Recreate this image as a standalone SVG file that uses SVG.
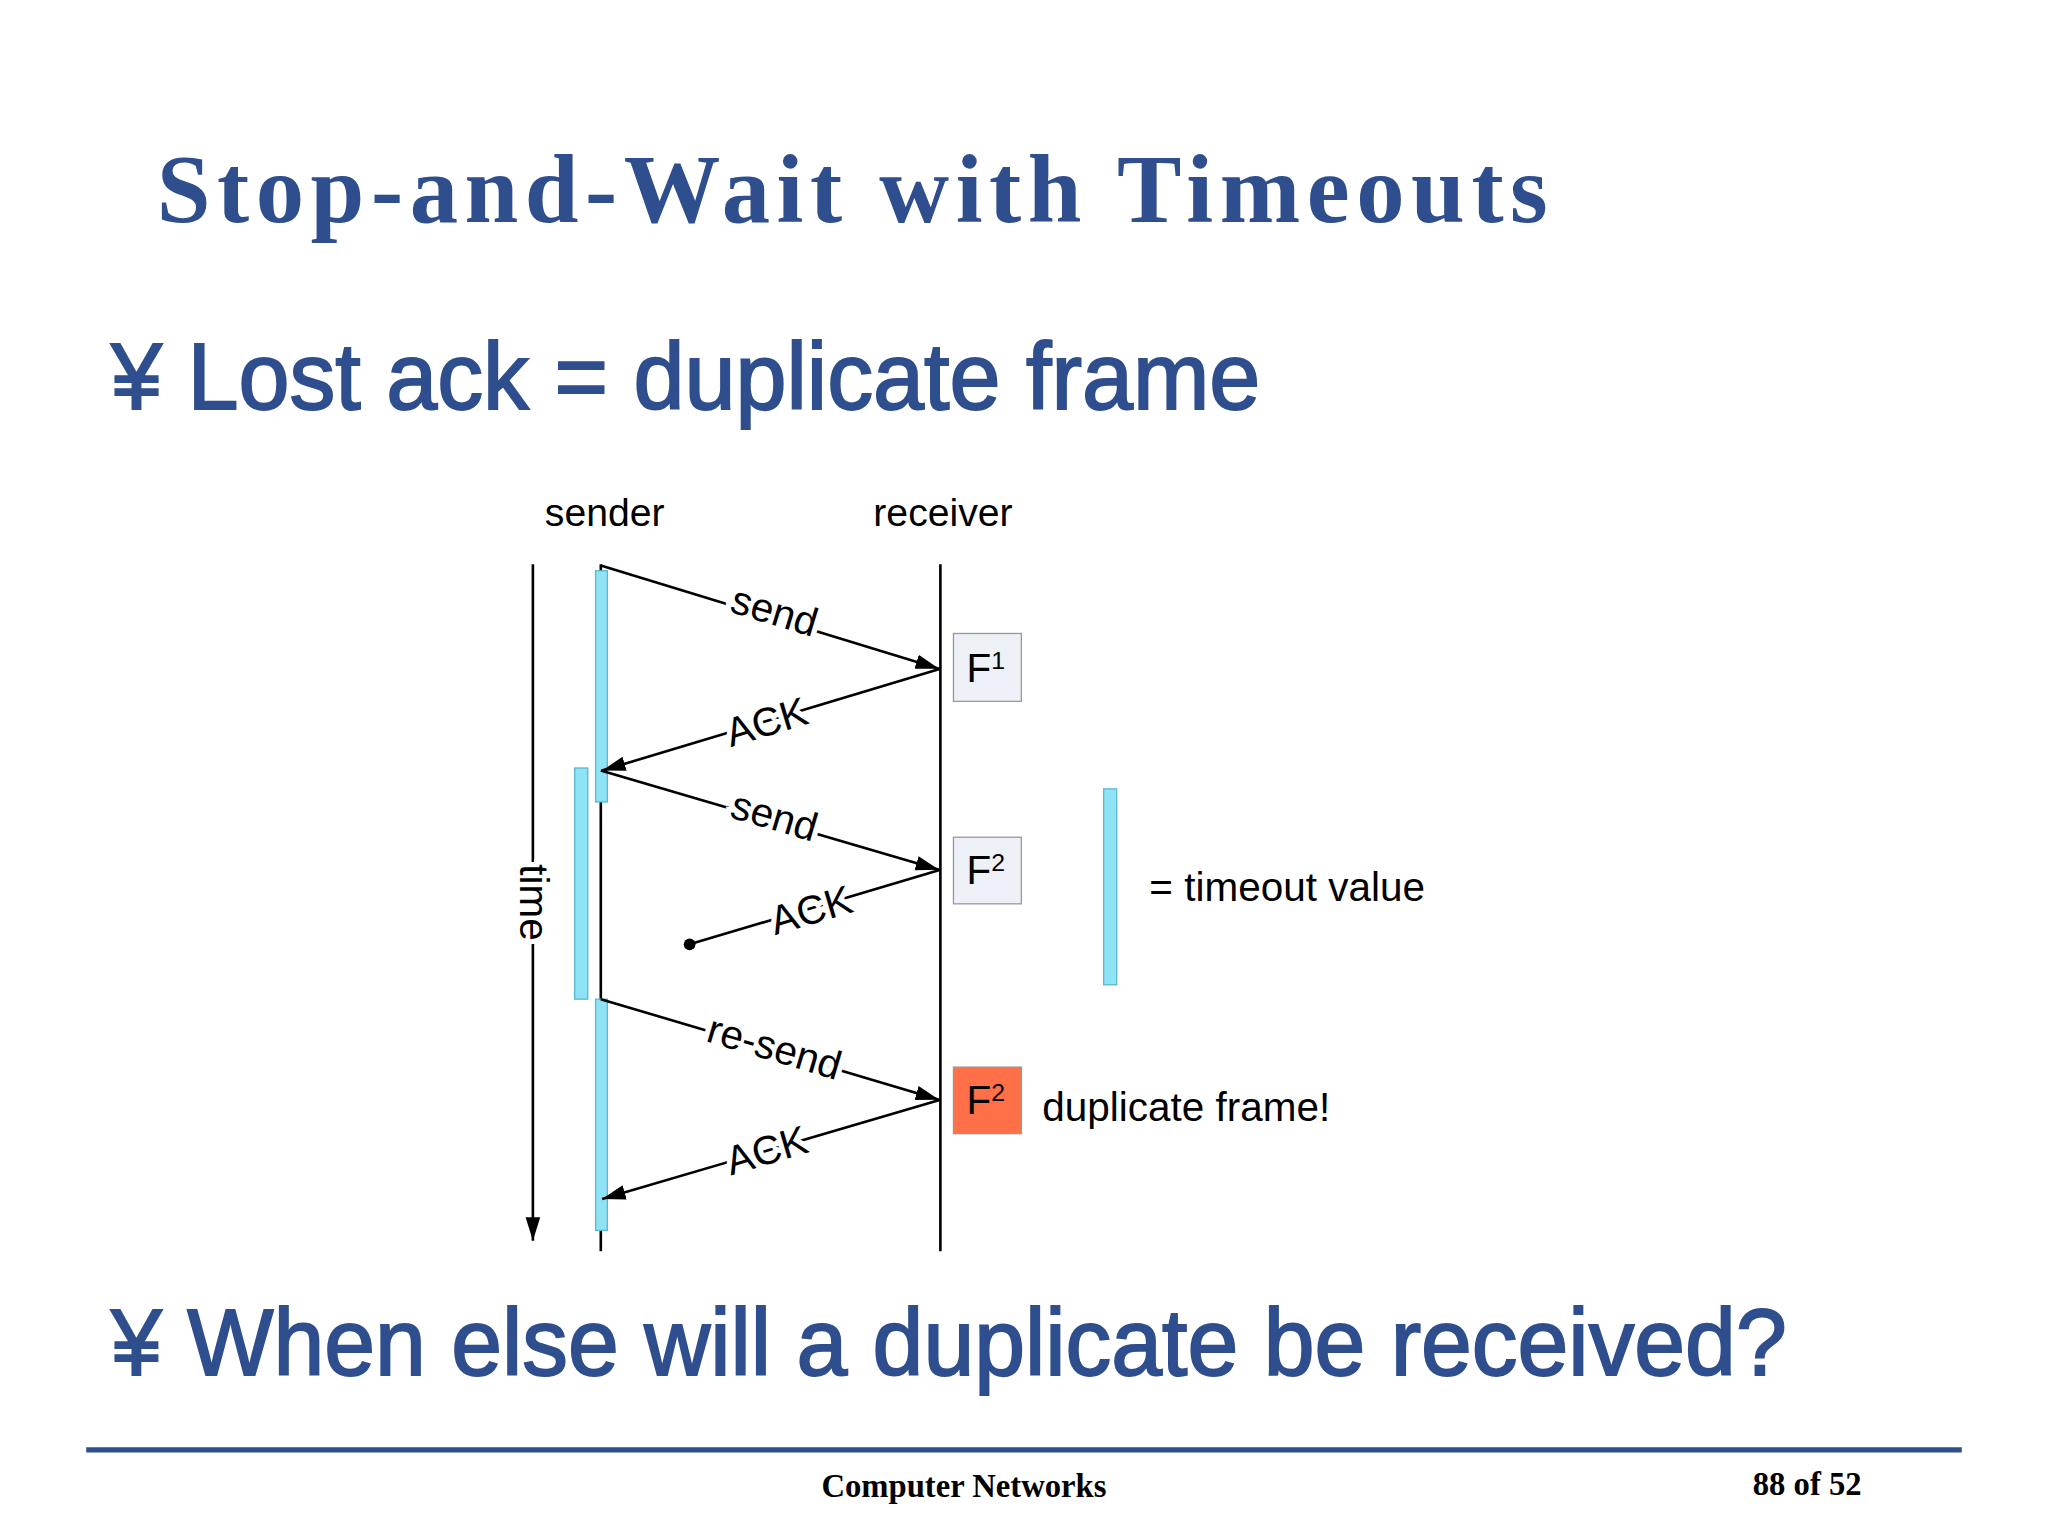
<svg xmlns="http://www.w3.org/2000/svg" width="2048" height="1536" viewBox="0 0 2048 1536">
<style>
.t{font-family:"Liberation Sans",Arial,sans-serif;fill:#000}
.lab{font-family:"Liberation Sans",Arial,sans-serif;font-size:31px;fill:#000;stroke:#fff;stroke-width:8px;paint-order:stroke;text-anchor:middle}
.ln{stroke:#000;stroke-width:2;fill:none}
.bar{fill:#8EE3F5;stroke:#5AB8D0;stroke-width:1}
.blue{fill:#2E4E8E}
.big{font-family:"Liberation Sans",Arial,sans-serif;font-size:72px;stroke:#2E4E8E;stroke-width:1.5px}
</style>
<defs><marker id="ah" viewBox="0 0 10 10" refX="10" refY="5" markerWidth="18" markerHeight="14" markerUnits="userSpaceOnUse" orient="auto" preserveAspectRatio="none"><path d="M0,1 L10,5 L0,9 z" fill="#000"/></marker>
<marker id="ah2" viewBox="0 0 10 10" refX="10" refY="5" markerWidth="18" markerHeight="14" markerUnits="userSpaceOnUse" orient="auto" preserveAspectRatio="none"><path d="M0,1 L10,5 L0,9 z" fill="#000"/></marker></defs>
<rect width="2048" height="1536" fill="#fff"/>
<g transform="scale(1.3061)">
<g id="title"><text x="120" y="170" class="blue" font-family="Liberation Serif,serif" font-weight="bold" font-size="74" textLength="1065" lengthAdjust="spacing">Stop-and-Wait with Timeouts</text></g>
<g id="bullet1"><text x="85" y="313" class="blue big" textLength="880" lengthAdjust="spacingAndGlyphs">¥ Lost ack = duplicate frame</text></g>
<g id="bullet2"><text x="85" y="1053" class="blue big" textLength="1283" lengthAdjust="spacingAndGlyphs">¥ When else will a duplicate be received?</text></g>
<g id="footer"><line x1="66" y1="1110" x2="1502" y2="1110" stroke="#2E4E8E" stroke-width="4"/>
<text x="738" y="1146" text-anchor="middle" font-family="Liberation Serif,serif" font-weight="bold" font-size="25">Computer Networks</text>
<text x="1342" y="1145" font-family="Liberation Serif,serif" font-weight="bold" font-size="25">88 of 52</text></g>
<g id="sender"><text class="t" x="463" y="403" font-size="30" text-anchor="middle">sender</text><line class="ln" x1="460" y1="432" x2="460" y2="958"/></g>
<g id="receiver"><text class="t" x="722" y="403" font-size="30" text-anchor="middle">receiver</text><line class="ln" x1="720" y1="432" x2="720" y2="958"/></g>
<g id="time"><line class="ln" x1="408" y1="432" x2="408" y2="950" marker-end="url(#ah2)"/>
<text class="lab" transform="translate(398,691) rotate(90)">time</text></g>
<g id="timers"><rect class="bar" x="456" y="437" width="9" height="177"/><rect class="bar" x="440" y="588" width="10" height="177"/><rect class="bar" x="456" y="765" width="9" height="177"/></g>
<g id="legend"><rect class="bar" x="845" y="604" width="10" height="150"/><text class="t" x="880" y="690" font-size="31">= timeout value</text></g>
<g id="F1"><rect x="730" y="485" width="52" height="52" fill="#EEF0F8" stroke="#999"/><text class="t" x="740" y="522" font-size="31">F<tspan font-size="19" dy="-10">1</tspan></text></g>
<g id="F2"><rect x="730" y="641" width="52" height="51" fill="#EEF0F8" stroke="#999"/><text class="t" x="740" y="677" font-size="31">F<tspan font-size="19" dy="-10">2</tspan></text></g>
<g id="F2dup"><rect x="730" y="817" width="52" height="51" fill="#FF7048" stroke="#999"/><text class="t" x="740" y="853" font-size="31">F<tspan font-size="19" dy="-10">2</tspan></text><text class="t" x="798" y="858" font-size="31">duplicate frame!</text></g>
<g id="connectors">
<line class="ln" x1="460" y1="433" x2="719" y2="512" marker-end="url(#ah)"/>
<line class="ln" x1="720" y1="512" x2="461" y2="590" marker-end="url(#ah)"/>
<line class="ln" x1="460" y1="590" x2="719" y2="666" marker-end="url(#ah)"/>
<line class="ln" x1="720" y1="666" x2="528" y2="723"/><circle cx="528" cy="723" r="4.5"/>
<line class="ln" x1="460" y1="765" x2="719" y2="842" marker-end="url(#ah)"/>
<line class="ln" x1="720" y1="842" x2="461" y2="918" marker-end="url(#ah)"/>
<text class="lab" transform="translate(590,478) rotate(16.9)">send</text>
<text class="lab" transform="translate(590,563) rotate(-16.8)">ACK</text>
<text class="lab" transform="translate(590,635) rotate(16.4)">send</text>
<text class="lab" transform="translate(624,707) rotate(-16.5)">ACK</text>
<text class="lab" transform="translate(590,812) rotate(16.5)">re-send</text>
<text class="lab" transform="translate(590,891) rotate(-16.4)">ACK</text>
</g>
</g>
</svg>
